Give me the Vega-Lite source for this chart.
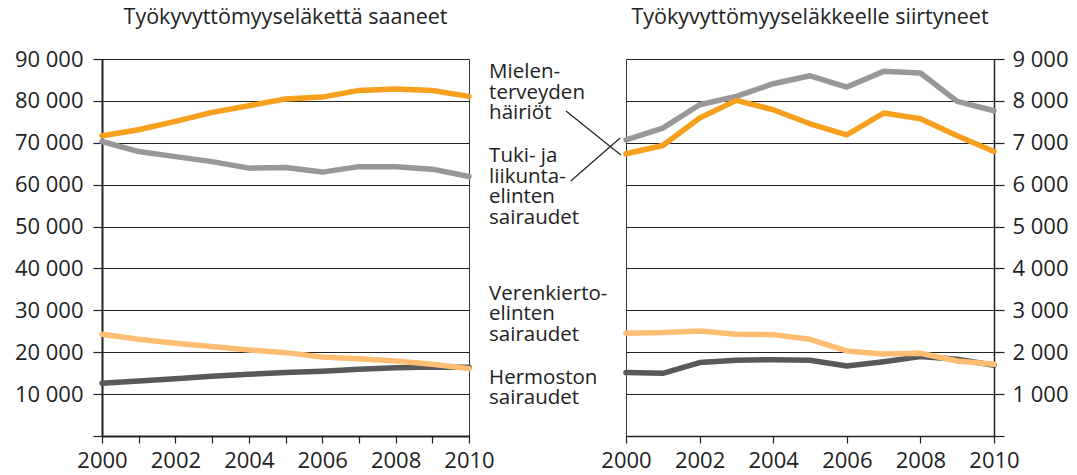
{
  "$schema": "https://vega.github.io/schema/vega-lite/v6.json",
  "padding": {"left": 13, "top": 6, "right": 5, "bottom": 0},
  "background": "white",
  "config": {
    "font": "Open Sans",
    "view": {"stroke": "#333", "strokeWidth": 1},
    "axis": {"labelFont": "Open Sans", "labelFontSize": 22, "labelColor": "#222", "tickColor": "#222", "domainColor": "#222", "title": null, "gridColor": "#222", "gridWidth": 1},
    "title": {"font": "Open Sans", "fontSize": 21.5, "fontWeight": "normal", "color": "#222", "offset": 20}
  },
  "datasets": {
    "saaneet": [
      {"series": "Hermosto", "year": 2000, "value": 12580},
      {"series": "Hermosto", "year": 2001, "value": 13140},
      {"series": "Hermosto", "year": 2002, "value": 13690},
      {"series": "Hermosto", "year": 2003, "value": 14250},
      {"series": "Hermosto", "year": 2004, "value": 14730},
      {"series": "Hermosto", "year": 2005, "value": 15130},
      {"series": "Hermosto", "year": 2006, "value": 15450},
      {"series": "Hermosto", "year": 2007, "value": 15920},
      {"series": "Hermosto", "year": 2008, "value": 16320},
      {"series": "Hermosto", "year": 2009, "value": 16480},
      {"series": "Hermosto", "year": 2010, "value": 16400},
      {"series": "Verenkierto", "year": 2000, "value": 24280},
      {"series": "Verenkierto", "year": 2001, "value": 23090},
      {"series": "Verenkierto", "year": 2002, "value": 22130},
      {"series": "Verenkierto", "year": 2003, "value": 21340},
      {"series": "Verenkierto", "year": 2004, "value": 20540},
      {"series": "Verenkierto", "year": 2005, "value": 19900},
      {"series": "Verenkierto", "year": 2006, "value": 18870},
      {"series": "Verenkierto", "year": 2007, "value": 18470},
      {"series": "Verenkierto", "year": 2008, "value": 17910},
      {"series": "Verenkierto", "year": 2009, "value": 17120},
      {"series": "Verenkierto", "year": 2010, "value": 16080},
      {"series": "Tuki", "year": 2000, "value": 70300},
      {"series": "Tuki", "year": 2001, "value": 67900},
      {"series": "Tuki", "year": 2002, "value": 66700},
      {"series": "Tuki", "year": 2003, "value": 65500},
      {"series": "Tuki", "year": 2004, "value": 63940},
      {"series": "Tuki", "year": 2005, "value": 64100},
      {"series": "Tuki", "year": 2006, "value": 63000},
      {"series": "Tuki", "year": 2007, "value": 64300},
      {"series": "Tuki", "year": 2008, "value": 64300},
      {"series": "Tuki", "year": 2009, "value": 63700},
      {"series": "Tuki", "year": 2010, "value": 61950},
      {"series": "Mielen", "year": 2000, "value": 71670},
      {"series": "Mielen", "year": 2001, "value": 73100},
      {"series": "Mielen", "year": 2002, "value": 75100},
      {"series": "Mielen", "year": 2003, "value": 77250},
      {"series": "Mielen", "year": 2004, "value": 78850},
      {"series": "Mielen", "year": 2005, "value": 80440},
      {"series": "Mielen", "year": 2006, "value": 80900},
      {"series": "Mielen", "year": 2007, "value": 82500},
      {"series": "Mielen", "year": 2008, "value": 82830},
      {"series": "Mielen", "year": 2009, "value": 82500},
      {"series": "Mielen", "year": 2010, "value": 81080}
    ],
    "siirtyneet": [
      {"series": "Hermosto", "year": 2000, "value": 1513},
      {"series": "Hermosto", "year": 2001, "value": 1497},
      {"series": "Hermosto", "year": 2002, "value": 1752},
      {"series": "Hermosto", "year": 2003, "value": 1807},
      {"series": "Hermosto", "year": 2004, "value": 1823},
      {"series": "Hermosto", "year": 2005, "value": 1807},
      {"series": "Hermosto", "year": 2006, "value": 1672},
      {"series": "Hermosto", "year": 2007, "value": 1775},
      {"series": "Hermosto", "year": 2008, "value": 1895},
      {"series": "Hermosto", "year": 2009, "value": 1831},
      {"series": "Hermosto", "year": 2010, "value": 1688},
      {"series": "Verenkierto", "year": 2000, "value": 2452},
      {"series": "Verenkierto", "year": 2001, "value": 2468},
      {"series": "Verenkierto", "year": 2002, "value": 2508},
      {"series": "Verenkierto", "year": 2003, "value": 2428},
      {"series": "Verenkierto", "year": 2004, "value": 2420},
      {"series": "Verenkierto", "year": 2005, "value": 2309},
      {"series": "Verenkierto", "year": 2006, "value": 2030},
      {"series": "Verenkierto", "year": 2007, "value": 1959},
      {"series": "Verenkierto", "year": 2008, "value": 1975},
      {"series": "Verenkierto", "year": 2009, "value": 1791},
      {"series": "Verenkierto", "year": 2010, "value": 1712},
      {"series": "Tuki", "year": 2000, "value": 7072},
      {"series": "Tuki", "year": 2001, "value": 7350},
      {"series": "Tuki", "year": 2002, "value": 7908},
      {"series": "Tuki", "year": 2003, "value": 8108},
      {"series": "Tuki", "year": 2004, "value": 8410},
      {"series": "Tuki", "year": 2005, "value": 8600},
      {"series": "Tuki", "year": 2006, "value": 8330},
      {"series": "Tuki", "year": 2007, "value": 8705},
      {"series": "Tuki", "year": 2008, "value": 8665},
      {"series": "Tuki", "year": 2009, "value": 7988},
      {"series": "Tuki", "year": 2010, "value": 7765},
      {"series": "Mielen", "year": 2000, "value": 6737},
      {"series": "Mielen", "year": 2001, "value": 6936},
      {"series": "Mielen", "year": 2002, "value": 7590},
      {"series": "Mielen", "year": 2003, "value": 8012},
      {"series": "Mielen", "year": 2004, "value": 7789},
      {"series": "Mielen", "year": 2005, "value": 7454},
      {"series": "Mielen", "year": 2006, "value": 7191},
      {"series": "Mielen", "year": 2007, "value": 7709},
      {"series": "Mielen", "year": 2008, "value": 7574},
      {"series": "Mielen", "year": 2009, "value": 7167},
      {"series": "Mielen", "year": 2010, "value": 6793}
    ],
    "labels": [
      {"year": 1996.28, "value": 8546, "label": "Mielen-\nterveyden\nhäiriöt"},
      {"year": 1996.28, "value": 6541, "label": "Tuki- ja\nliikunta-\nelinten\nsairaudet"},
      {"year": 1996.28, "value": 3254, "label": "Verenkierto-\nelinten\nsairaudet"},
      {"year": 1996.28, "value": 1242, "label": "Hermoston\nsairaudet"}
    ],
    "leaders": [
      {"year": 1998.37, "year2": 1999.86, "value": 7759, "value2": 6708},
      {"year": 1998.5, "year2": 1999.84, "value": 6088, "value2": 7114}
    ]
  },
  "hconcat": [
    {
      "width": 367,
      "height": 377,
      "title": "Työkyvyttömyyseläkettä saaneet",
      "data": {"name": "saaneet"},
      "mark": {"type": "line", "strokeWidth": 5.5, "strokeCap": "round", "strokeJoin": "round"},
      "encoding": {
        "x": {"field": "year", "type": "quantitative", "scale": {"domain": [2000, 2010], "nice": false, "zero": false},
          "axis": {"values": [2000, 2001, 2002, 2003, 2004, 2005, 2006, 2007, 2008, 2009, 2010], "labelExpr": "datum.value % 2 ? '' : '' + datum.value", "grid": false, "domainWidth": 2, "tickSize": 7, "tickWidth": 1.2, "labelPadding": 7, "labelFlush": false, "labelOverlap": false}},
        "y": {"field": "value", "type": "quantitative", "scale": {"domain": [0, 90000], "nice": false},
          "axis": {"values": [0, 10000, 20000, 30000, 40000, 50000, 60000, 70000, 80000, 90000], "labelExpr": "datum.value == 0 ? '' : replace(format(datum.value, ','), ',', ' ')", "grid": true, "domainWidth": 2, "tickSize": 9, "tickWidth": 1.2, "labelPadding": 10, "labelBaseline": "middle"}},
        "color": {"field": "series", "type": "nominal", "legend": null,
          "scale": {"domain": ["Hermosto", "Verenkierto", "Tuki", "Mielen"], "range": ["#58595b", "#fdbe74", "#98989b", "#f6a01e"]}}
      }
    },
    {
      "width": 368,
      "height": 377,
      "title": "Työkyvyttömyyseläkkeelle siirtyneet",
      "layer": [
        {
          "data": {"name": "siirtyneet"},
          "mark": {"type": "line", "strokeWidth": 5.5, "strokeCap": "round", "strokeJoin": "round"},
          "encoding": {
            "x": {"field": "year", "type": "quantitative", "scale": {"domain": [2000, 2010], "nice": false, "zero": false},
              "axis": {"values": [2000, 2001, 2002, 2003, 2004, 2005, 2006, 2007, 2008, 2009, 2010], "labelExpr": "datum.value % 2 ? '' : '' + datum.value", "grid": false, "domainWidth": 1.5, "tickSize": 7, "tickWidth": 1.2, "labelPadding": 7, "labelFlush": false, "labelOverlap": false}},
            "y": {"field": "value", "type": "quantitative", "scale": {"domain": [0, 9000], "nice": false},
              "axis": {"orient": "right", "values": [0, 1000, 2000, 3000, 4000, 5000, 6000, 7000, 8000, 9000], "labelExpr": "datum.value == 0 ? '' : replace(format(datum.value, ','), ',', ' ')", "grid": true, "domainWidth": 1.5, "tickSize": 10, "tickWidth": 1.2, "labelPadding": 8, "labelBaseline": "middle"}},
            "color": {"field": "series", "type": "nominal", "legend": null,
              "scale": {"domain": ["Hermosto", "Verenkierto", "Tuki", "Mielen"], "range": ["#58595b", "#fdbe74", "#98989b", "#f6a01e"]}}
          }
        },
        {
          "data": {"name": "leaders"},
          "mark": {"type": "rule", "color": "#222", "strokeWidth": 1.2},
          "encoding": {
            "x": {"field": "year", "type": "quantitative"},
            "x2": {"field": "year2"},
            "y": {"field": "value", "type": "quantitative"},
            "y2": {"field": "value2"}
          }
        },
        {
          "data": {"name": "labels"},
          "mark": {"type": "text", "align": "left", "baseline": "alphabetic", "fontSize": 20.5, "lineHeight": 20.5, "lineBreak": "\n", "color": "#222", "font": "Open Sans"},
          "encoding": {
            "x": {"field": "year", "type": "quantitative"},
            "y": {"field": "value", "type": "quantitative"},
            "text": {"field": "label", "type": "nominal"}
          }
        }
      ]
    }
  ],
  "bounds": "flush",
  "spacing": 157
}
